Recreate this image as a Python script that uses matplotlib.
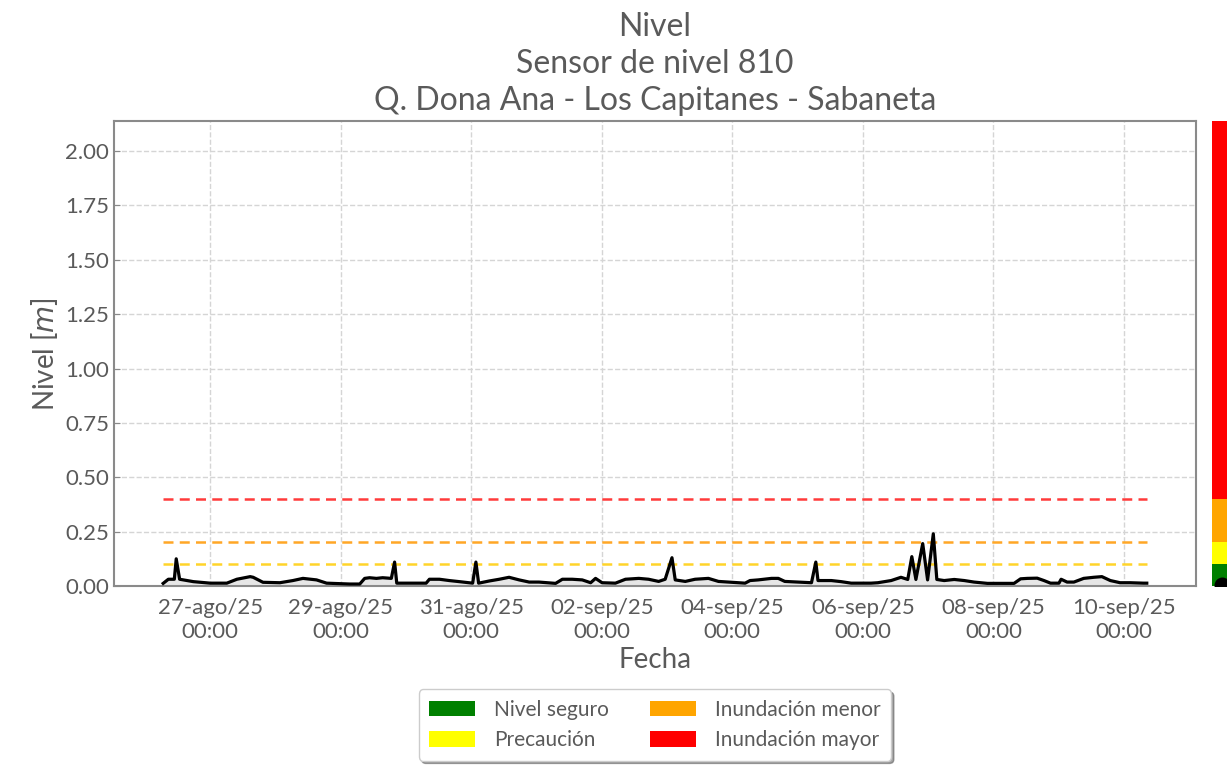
#!/bin/env python3

import datetime as dt
import numpy as np
import matplotlib
matplotlib.use('Agg')
import matplotlib.dates as mdates
from matplotlib import pyplot as plt
from matplotlib.patches import Patch

# lecturas del sensor: horas desde 26-ago-2025 00:00 y nivel en metros
horas = [6.7, 8.6, 10.8, 11.5, 12.75, 17.8, 24.0, 30.1, 33.8, 38.7, 39.8, 43.4,
         49.6, 54.4, 58.1, 63.1, 66.8, 75.3, 79.0, 80.8, 82.6, 85.1, 87.4, 90.6,
         91.8, 92.6, 103.4, 104.6, 108.3, 111.9, 115.6, 120.5, 121.7, 122.7,
         126.6, 130.3, 133.9, 137.6, 141.3, 144.9, 151.0, 153.5, 157.1, 160.8,
         163.9, 165.7, 168.1, 173.0, 176.7, 181.6, 185.2, 188.9, 191.3, 193.8,
         195.0, 198.7, 202.3, 207.2, 210.9, 220.7, 222.5, 225.5, 230.4, 232.9,
         235.3, 245.1, 246.7, 247.5, 252.4, 256.0, 259.7, 267.0, 269.5, 274.4,
         278.0, 280.5, 282.0, 283.5, 286.0, 287.8, 289.9, 291.2, 293.9, 297.6,
         301.3, 304.9, 309.8, 319.6, 322.0, 324.5, 328.1, 330.6, 333.0, 336.1,
         336.9, 339.1, 341.6, 345.2, 348.9, 351.9, 355.0, 358.6, 362.3, 367.2,
         368.4]
nivel = [0.012, 0.031, 0.031, 0.125, 0.031, 0.020, 0.013, 0.013, 0.031, 0.043, 0.040, 0.017,
         0.015, 0.025, 0.035, 0.028, 0.013, 0.009, 0.009, 0.035, 0.038, 0.035, 0.038, 0.035,
         0.110, 0.013, 0.013, 0.031, 0.031, 0.025, 0.020, 0.013, 0.110, 0.013,
         0.023, 0.031, 0.040, 0.028, 0.018, 0.018, 0.012, 0.031, 0.031, 0.028,
         0.015, 0.035, 0.015, 0.013, 0.031, 0.035, 0.031, 0.021, 0.031, 0.130,
         0.028, 0.021, 0.031, 0.035, 0.021, 0.013, 0.025, 0.028, 0.035, 0.035,
         0.021, 0.015, 0.110, 0.025, 0.025, 0.020, 0.013, 0.013, 0.015, 0.025,
         0.040, 0.030, 0.135, 0.030, 0.195, 0.028, 0.240, 0.030, 0.025, 0.030,
         0.025, 0.018, 0.012, 0.012, 0.033, 0.035, 0.036, 0.025, 0.013, 0.013,
         0.031, 0.018, 0.018, 0.035, 0.040, 0.043, 0.025, 0.015, 0.015, 0.013,
         0.013]

# umbrales de alerta (m)
umbrales = [0.1, 0.2, 0.4]
colores_umbral = ['#ffd42a', '#ffa726', '#ff3b3b']
niveles_alerta = ['Nivel seguro', 'Precaución', 'Inundación menor', 'Inundación mayor']
colores_alerta = ['green', 'yellow', 'orange', 'red']
meses = {8: 'ago', 9: 'sep'}

inicio = dt.datetime(2025, 8, 26)
fechas = [inicio + dt.timedelta(hours=h) for h in horas]

plt.rcParams['font.family'] = ['Lato', 'DejaVu Sans']
gris = '#5a5a5a'

fig = plt.figure(figsize=(12.27, 7.66), dpi=100)
ax = fig.add_axes([0.0929, 0.235, 0.8818, 0.607])

ax.fill_between(fechas, nivel, 0, color='#e6e6e6', zorder=2)
ax.plot(fechas, nivel, color='black', lw=2.3, zorder=3)
for u, c in zip(umbrales, colores_umbral):
    ax.hlines(u, fechas[0], fechas[-1], colors=c, linestyles=(0, (4, 2.5)), lw=1.8, zorder=2)

ymax = 2.138
ax.set_ylim(0, ymax)
ax.set_yticks(np.arange(0, 2.01, 0.25))
ax.yaxis.set_major_formatter(plt.FormatStrFormatter('%.2f'))

ticks = [inicio + dt.timedelta(days=1 + 2 * k) for k in range(8)]
ax.set_xticks(ticks)
ax.xaxis.set_major_formatter(plt.FuncFormatter(
    lambda x, pos: (lambda d: f"{d.day:02d}-{meses[d.month]}/{d.strftime('%y')}\n{d.strftime('%H:%M')}")(mdates.num2date(x))))

ax.grid(True, ls='--', color='#d5d5d5', lw=1)
ax.set_axisbelow(True)
for s in ax.spines.values():
    s.set_color('#8a8a8a')
    s.set_linewidth(1.5)
ax.tick_params(axis='y', direction='in', length=4, color='#8a8a8a', labelsize=16, labelcolor=gris)
ax.tick_params(axis='x', length=0, labelsize=16, labelcolor=gris, pad=9)

ax.set_xlabel('Fecha', fontsize=20, color=gris, labelpad=4)
ax.set_ylabel('Nivel [$m$]', fontsize=20, color=gris)
ax.set_title('Nivel\nSensor de nivel 810\nQ. Dona Ana - Los Capitanes - Sabaneta',
             fontsize=23, color=gris, linespacing=1.3, pad=8)

handles = [Patch(facecolor=c, edgecolor='none') for c in colores_alerta]
leg = ax.legend(handles, niveles_alerta,
                loc='upper center', bbox_to_anchor=(0.5, -0.2), ncol=2, fontsize=15,
                frameon=True, fancybox=True, shadow=True, handlelength=2.2,
                handleheight=0.75, handletextpad=0.9, columnspacing=2.0,
                labelcolor=gris, borderpad=0.5)
leg.get_frame().set_edgecolor('#cccccc')

# barra de alertas a la derecha, con el nivel actual
cb = fig.add_axes([1212 / 1227, 0.235, 0.03, 0.607])
limites = [0] + umbrales + [ymax]
for i, c in enumerate(colores_alerta):
    cb.bar(0.5, limites[i + 1] - limites[i], bottom=limites[i], width=1, color=c)
cb.scatter([0.27], [nivel[-1] - 0.01], s=110, color='black', zorder=3)
cb.set_xlim(0, 1)
cb.set_ylim(0, ymax)
cb.axis('off')

fig.savefig('out.png', dpi=100)
